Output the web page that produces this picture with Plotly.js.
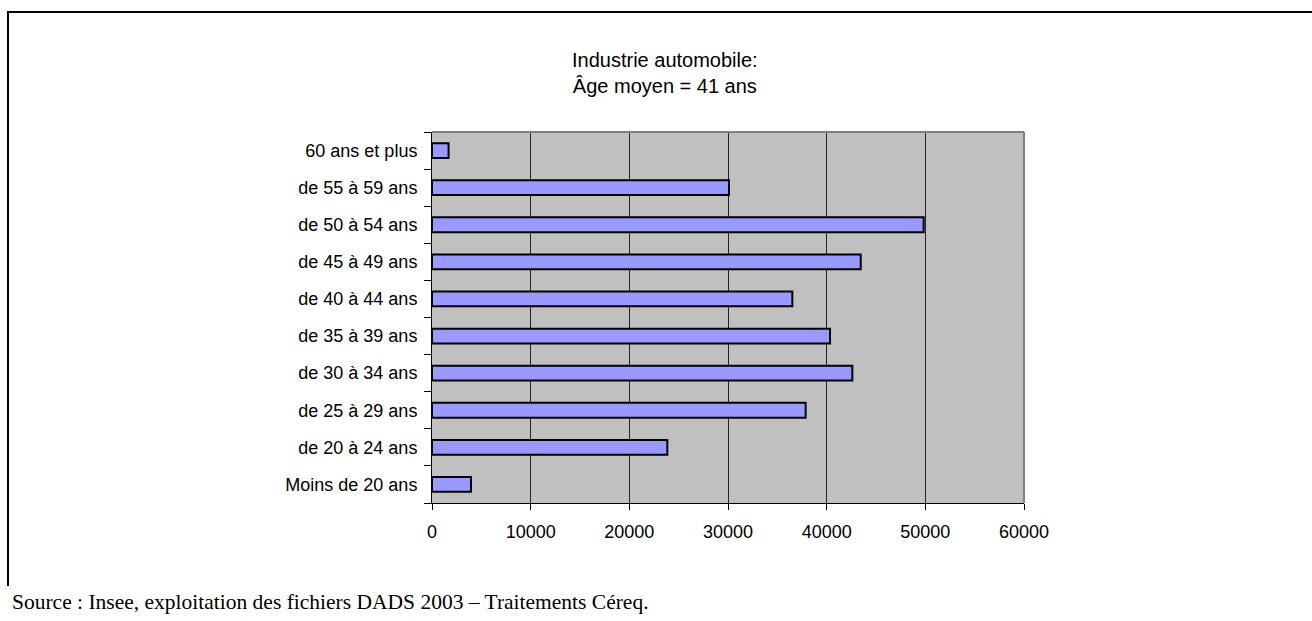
<!DOCTYPE html>
<html>
<head>
<meta charset="utf-8">
<script src="https://cdn.plot.ly/plotly-3.0.1.min.js"></script>
<style>
  html, body { margin: 0; padding: 0; background: #ffffff; }
  #chart { width: 1312px; height: 621px; }
</style>
</head>
<body>
<div id="chart"></div>
<script>
// Age groups, bottom to top
const ageGroups = [
  "Moins de 20 ans",
  "de 20 à 24 ans",
  "de 25 à 29 ans",
  "de 30 à 34 ans",
  "de 35 à 39 ans",
  "de 40 à 44 ans",
  "de 45 à 49 ans",
  "de 50 à 54 ans",
  "de 55 à 59 ans",
  "60 ans et plus"
];
// Headcount per age group
const effectifs = [3950, 23850, 37870, 42600, 40340, 36520, 43450, 49830, 30100, 1680];
const xTicks = [0, 10000, 20000, 30000, 40000, 50000, 60000];

const titleLines = ["Industrie automobile:", "Âge moyen = 41 ans"];
const sourceText = "Source : Insee, exploitation des fichiers DADS 2003 – Traitements Céreq.";

// Page geometry (pixels)
const W = 1312, H = 621;
const plotL = 432, plotR = 1024, plotT = 132, plotB = 503;
const px = x => (x - plotL) / (plotR - plotL);
const py = y => (plotB - y) / (plotB - plotT);

const sans = "Liberation Sans, Arial, sans-serif";
const serif = "Liberation Serif, Times New Roman, serif";

const trace = {
  type: "bar",
  orientation: "h",
  y: ageGroups,
  x: effectifs,
  marker: { color: "#9999FF", line: { color: "#000000", width: 2 } },
  hoverinfo: "x+y"
};

const layout = {
  width: W,
  height: H,
  margin: { l: plotL, r: W - plotR, t: plotT, b: H - plotB, pad: 0 },
  paper_bgcolor: "#ffffff",
  plot_bgcolor: "#C0C0C0",
  showlegend: false,
  bargap: 0.6,
  font: { family: sans, size: 18, color: "#000000" },
  xaxis: {
    range: [0, 60000],
    tickvals: xTicks,
    ticktext: xTicks.map(String),
    showgrid: true,
    gridcolor: "#222222",
    gridwidth: 1,
    zeroline: false,
    showline: true,
    linecolor: "#000000",
    linewidth: 1,
    ticks: "outside",
    ticklen: 6,
    tickcolor: "#000000",
    ticklabelstandoff: 6,
    tickfont: { family: sans, size: 18, color: "#000000" },
    fixedrange: true
  },
  yaxis: {
    type: "category",
    categoryorder: "array",
    categoryarray: ageGroups,
    tickson: "boundaries",
    ticks: "outside",
    ticklen: 7,
    tickcolor: "#000000",
    showline: true,
    linecolor: "#000000",
    linewidth: 1,
    showgrid: false,
    zeroline: false,
    ticklabelstandoff: 10,
    tickfont: { family: sans, size: 18, color: "#000000" },
    fixedrange: true
  },
  shapes: [
    // plot-area border (top and right in grey)
    { type: "line", xref: "paper", yref: "paper", x0: 0, x1: 1, y0: 1, y1: 1,
      line: { color: "#808080", width: 2 }, layer: "above" },
    { type: "line", xref: "paper", yref: "paper", x0: 1, x1: 1, y0: 0, y1: 1,
      line: { color: "#808080", width: 2 }, layer: "above" },
    // chart frame
    { type: "line", xref: "paper", yref: "paper", x0: px(8), x1: px(W + 2), y0: py(12), y1: py(12),
      line: { color: "#000000", width: 2 } },
    { type: "line", xref: "paper", yref: "paper", x0: px(8), x1: px(8), y0: py(11), y1: py(586),
      line: { color: "#000000", width: 2 } }
  ],
  annotations: [
    { xref: "paper", yref: "paper", x: px(665), y: py(73), xanchor: "center", yanchor: "middle",
      text: titleLines.join("<br>"), showarrow: false,
      font: { family: sans, size: 20, color: "#000000" } },
    { xref: "paper", yref: "paper", x: px(10), y: py(602), xanchor: "left", yanchor: "middle",
      text: sourceText, showarrow: false,
      font: { family: serif, size: 21.5, color: "#000000" } }
  ]
};

Plotly.newPlot("chart", [trace], layout, { displayModeBar: false, staticPlot: true });
</script>
</body>
</html>
